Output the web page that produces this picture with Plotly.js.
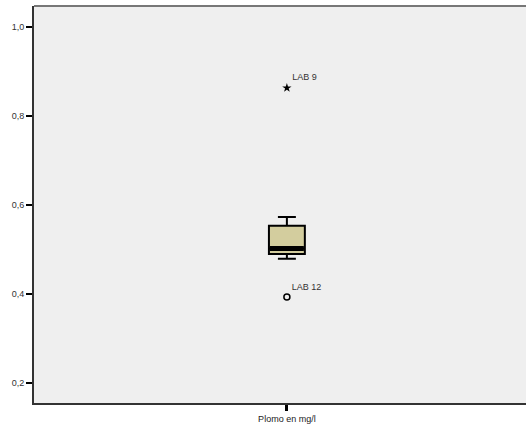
<!DOCTYPE html>
<html><head><meta charset="utf-8">
<script src="https://cdn.plot.ly/plotly-3.0.1.min.js"></script>
<style>html,body{margin:0;padding:0;background:#fff}</style>
</head><body>
<div id="chart" style="width:526px;height:426px"></div>
<script>
const categoryLabel = "Plomo en mg/l";
const lowerWhisker = [0.479];
const q1 = [0.490];
const median = [0.502];
const q3 = [0.553];
const upperWhisker = [0.573];
const outlierValues = [0.393];
const outlierLabels = ["LAB 12"];
const extremeValues = [0.863];
const extremeLabels = ["LAB 9"];
const yTicks = [0.2, 0.4, 0.6, 0.8, 1.0];

const boxWidth = 0.073;
const labelFont = {family: 'Liberation Sans, Arial, sans-serif', size: 9, color: '#333333'};
const traces = [
  {
    type: 'box', x: [0], q1: q1, median: median, q3: q3,
    lowerfence: lowerWhisker, upperfence: upperWhisker,
    width: boxWidth, whiskerwidth: 0.5,
    fillcolor: '#d3cd9e', line: {color: '#000', width: 2},
    boxpoints: false, hoverinfo: 'skip', showlegend: false
  },
  {
    type: 'scatter', mode: 'lines',
    x: [-boxWidth/2 + 0.002, boxWidth/2 - 0.002], y: [median[0], median[0]],
    line: {color: '#000', width: 5}, hoverinfo: 'skip', showlegend: false
  },
  {
    type: 'scatter', mode: 'markers+text',
    x: outlierValues.map(() => 0), y: outlierValues, text: outlierLabels,
    textposition: 'top right', textfont: labelFont,
    marker: {symbol: 'circle-open', size: 6, color: '#000', line: {width: 1.5, color: '#000'}},
    hoverinfo: 'skip', showlegend: false
  },
  {
    type: 'scatter', mode: 'markers+text',
    x: extremeValues.map(() => 0), y: extremeValues, text: extremeLabels,
    textposition: 'top right', textfont: labelFont,
    marker: {symbol: 'star', size: 7, color: '#000'},
    hoverinfo: 'skip', showlegend: false
  }
];

const layout = {
  width: 526, height: 426,
  margin: {l: 34, r: 0, t: 6, b: 23},
  paper_bgcolor: '#ffffff', plot_bgcolor: '#efefef',
  separators: ',.',
  font: {family: 'Liberation Sans, Arial, sans-serif', size: 9, color: '#333'},
  showlegend: false,
  xaxis: {
    range: [-0.514, 0.486], tickvals: [0], ticktext: [categoryLabel],
    showgrid: false, zeroline: false, showline: true, linecolor: '#333', linewidth: 2,
    ticks: 'outside', ticklen: 6, tickwidth: 3, tickcolor: '#000',
    tickfont: {size: 9, color: '#222'}, fixedrange: true
  },
  yaxis: {
    range: [0.155, 1.047], tickvals: yTicks, tickformat: '.1f',
    showgrid: false, zeroline: false, showline: true, linecolor: '#333', linewidth: 2,
    ticks: 'outside', ticklen: 6, tickwidth: 2, tickcolor: '#000',
    tickfont: {size: 9, color: '#333'}, fixedrange: true
  },
  shapes: [
    {type: 'line', xref: 'paper', yref: 'paper', x0: 0, x1: 1, y0: 1, y1: 1,
     line: {color: '#777', width: 2}}
  ]
};

Plotly.newPlot('chart', traces, layout, {displayModeBar: false, staticPlot: true});
</script>
</body></html>
